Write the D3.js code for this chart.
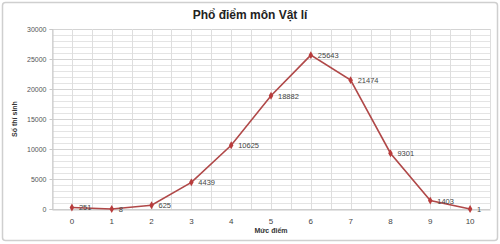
<!DOCTYPE html>
<html><head><meta charset="utf-8">
<script src="https://cdn.jsdelivr.net/npm/d3@7"></script>
<style>body{margin:0;background:#fff}svg{display:block}</style>
</head><body>
<svg id="c" width="500" height="244"></svg>
<script>
const categories = ["0","1","2","3","4","5","6","7","8","9","10"];
const values = [251, 8, 625, 4439, 10625, 18882, 25643, 21474, 9301, 1403, 1];
const yTicks = [0, 5000, 10000, 15000, 20000, 25000, 30000];
const title = "Phổ điểm môn Vật lí";
const xTitle = "Mức điểm";
const yTitle = "Số thí sinh";

const svg = d3.select("#c");
const m = {l:52, r:10, t:29, b:35};
const W = 500, H = 244;
const x = d3.scaleBand().domain(categories).range([m.l, W - m.r]);
const y = d3.scaleLinear().domain([0, 30000]).range([H - m.b, m.t]);

svg.append("rect").attr("x",2.5).attr("y",2.5).attr("width",495).attr("height",238)
  .attr("rx",3).attr("fill","#fff").attr("stroke","#cfcfcf").attr("stroke-width",1.5);

// grid
const g = svg.append("g");
const minor = d3.range(0, 30001, 1000);
g.selectAll(".hm").data(minor).join("line")
  .attr("x1", m.l).attr("x2", W - m.r)
  .attr("y1", d => Math.round(y(d)) + 0.5).attr("y2", d => Math.round(y(d)) + 0.5)
  .attr("stroke", d => d % 5000 === 0 ? "#d4d4d4" : "#e4e4e4").attr("stroke-width", 1);
const vEdges = categories.map(c => x(c)).concat([x(categories[categories.length-1]) + x.bandwidth()]);
const vCenters = categories.map(c => x(c) + x.bandwidth()/2);
g.selectAll(".ve").data(vEdges.concat(vCenters)).join("line")
  .attr("x1", d => Math.round(d) + 0.5).attr("x2", d => Math.round(d) + 0.5)
  .attr("y1", m.t).attr("y2", H - m.b)
  .attr("stroke", "#dedede");

// axes
const yAxis = d3.axisLeft(y).tickValues(yTicks).tickFormat(d3.format("d")).tickSize(3).tickPadding(3);
const ya = svg.append("g").attr("transform", `translate(${m.l + 0.5},0)`).call(yAxis);
ya.select(".domain").attr("stroke", "#c8c8c8");
ya.selectAll(".tick line").attr("stroke", "#c8c8c8");
ya.selectAll("text").attr("fill", "#555").attr("font-size", 7).attr("font-family", "Liberation Sans, Arial, sans-serif");

const xAxis = d3.axisBottom(x).tickSize(0).tickPadding(9);
const xa = svg.append("g").attr("transform", `translate(0,${H - m.b + 0.5})`).call(xAxis);
xa.select(".domain").attr("stroke", "#c8c8c8");
xa.selectAll("text").attr("fill", "#444").attr("font-size", 8).attr("font-family", "Liberation Sans, Arial, sans-serif");

// line
const cx = c => x(c) + x.bandwidth()/2;
const line = d3.line().x((d,i) => cx(categories[i])).y(d => y(d));
svg.append("path").datum(values).attr("d", line)
  .attr("fill", "none").attr("stroke", "#b04848").attr("stroke-width", 1.6);
svg.selectAll(".pt").data(values).join("path")
  .attr("d", d3.symbol(d3.symbolDiamond, 18))
  .attr("transform", (d,i) => `translate(${cx(categories[i])},${y(d)})`)
  .attr("fill", "#b83c3c");
svg.selectAll(".lb").data(values).join("text")
  .attr("x", (d,i) => cx(categories[i]) + 7).attr("y", d => y(d) + 3)
  .attr("font-size", 7.5).attr("fill", "#444").attr("font-family", "Liberation Sans, Arial, sans-serif")
  .text(d => d);

// titles
svg.append("text").attr("x", 250).attr("y", 19).attr("text-anchor", "middle")
  .attr("font-size", 12).attr("font-weight", "bold").attr("fill", "#222")
  .attr("font-family", "Liberation Sans, Arial, sans-serif").text(title);
svg.append("text").attr("x", (m.l + W - m.r)/2).attr("y", 233).attr("text-anchor", "middle")
  .attr("font-size", 7).attr("font-weight", "bold").attr("fill", "#333")
  .attr("font-family", "Liberation Sans, Arial, sans-serif").text(xTitle);
svg.append("text").attr("transform", `translate(17,${(m.t + H - m.b)/2}) rotate(-90)`)
  .attr("text-anchor", "middle").attr("font-size", 7).attr("font-weight", "bold").attr("fill", "#333")
  .attr("font-family", "Liberation Sans, Arial, sans-serif").text(yTitle);
</script>
</body></html>
